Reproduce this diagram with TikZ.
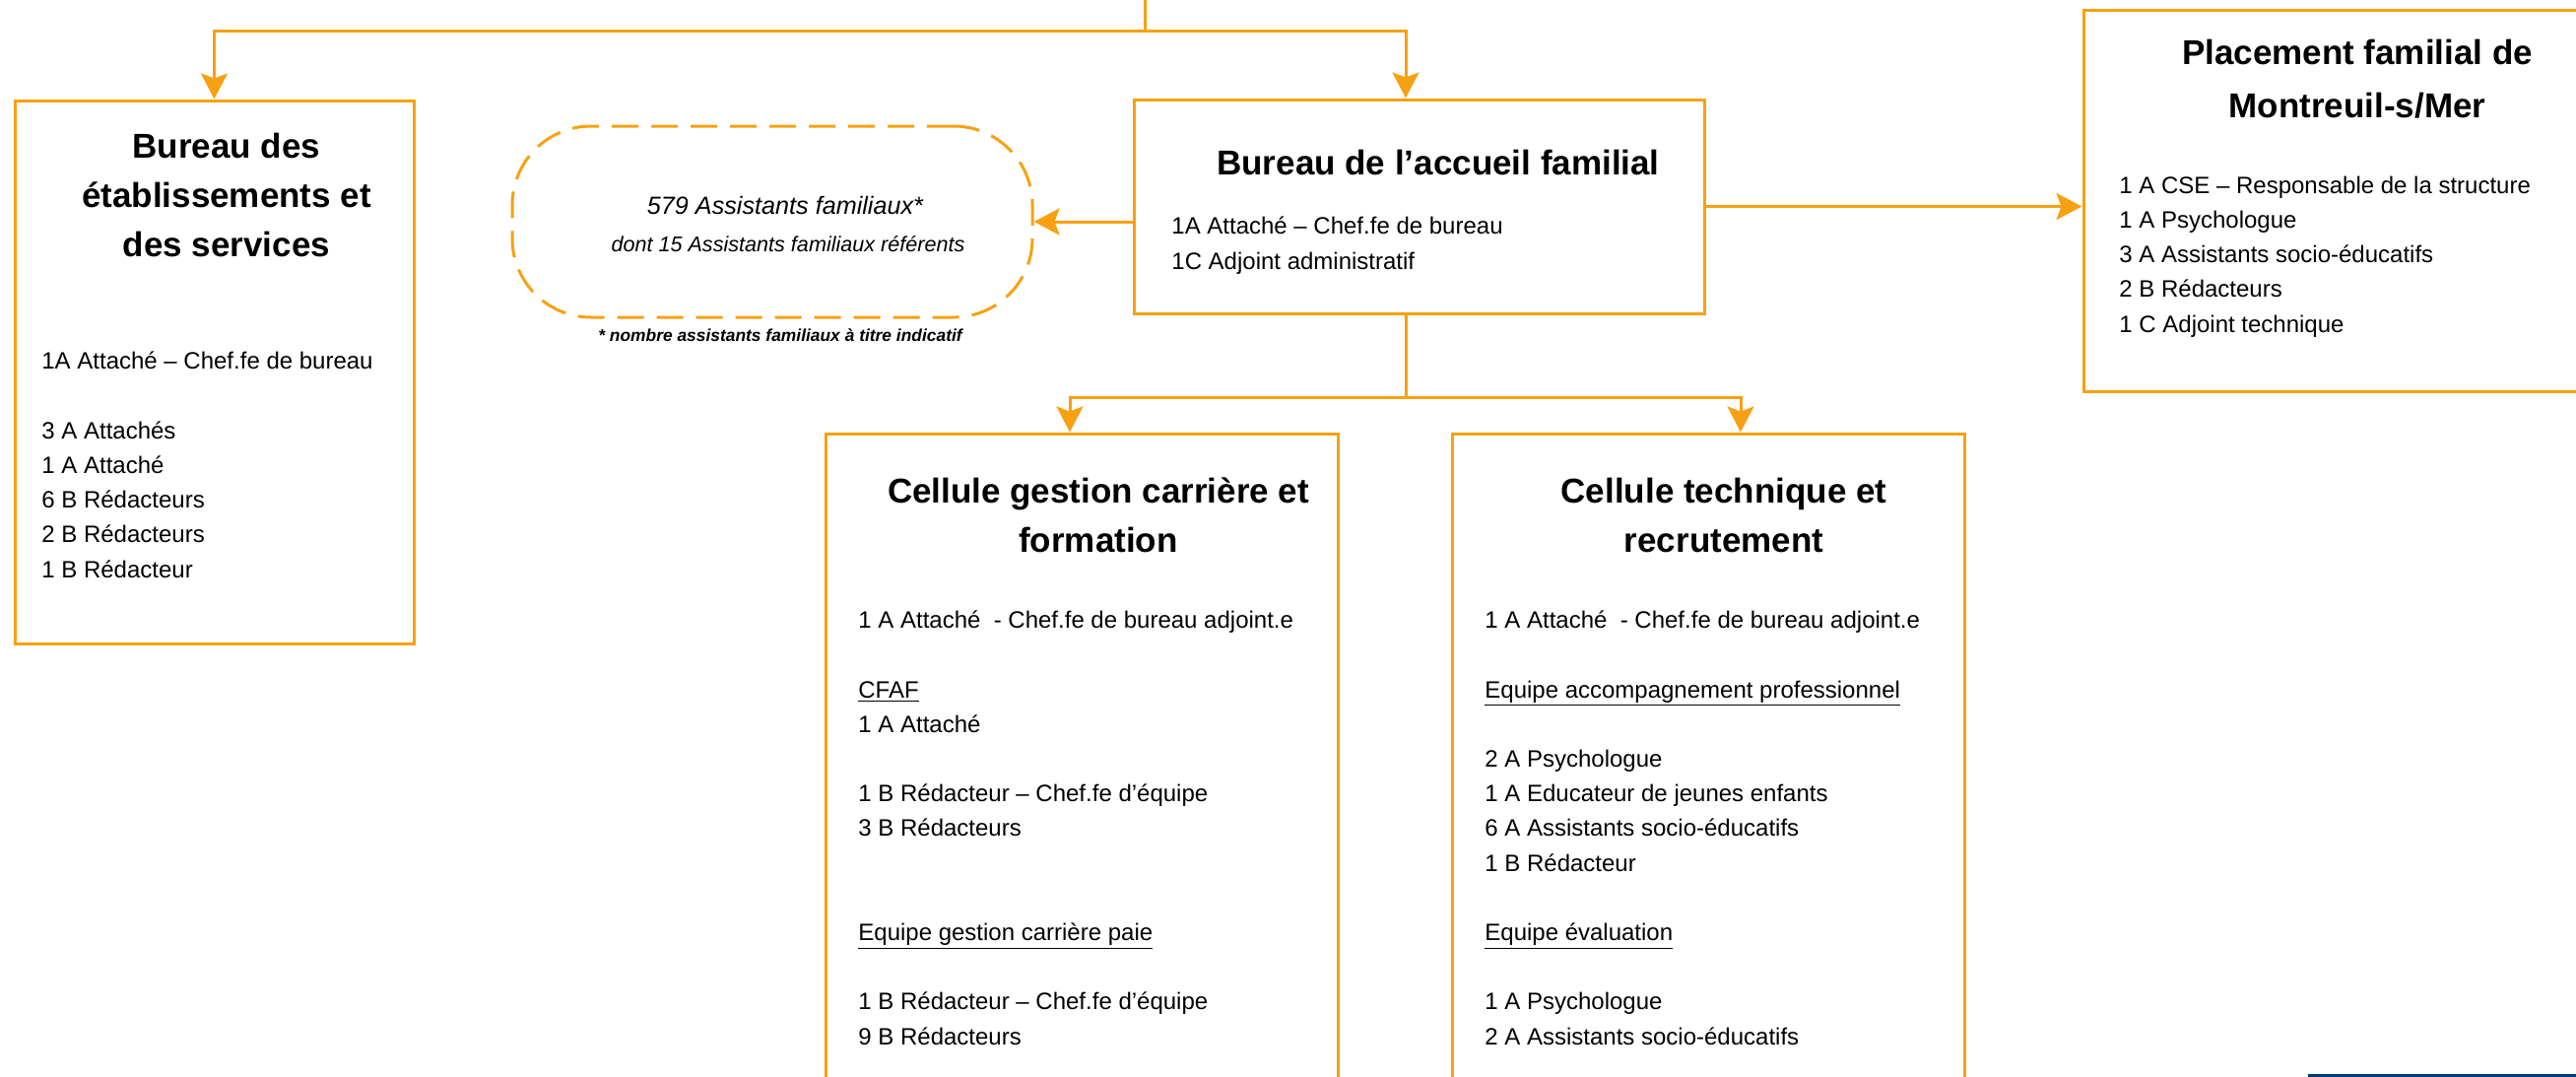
\documentclass[tikz,border=0pt]{standalone}
\usepackage{fontspec}
\setmainfont{Liberation Sans}
\usetikzlibrary{positioning}
\usetikzlibrary{arrows.meta}
\usetikzlibrary{calc}
\definecolor{cdorange}{RGB}{247,161,18}
\definecolor{cdbleu}{RGB}{0,59,113}
\tikzset{
  boite/.style={draw=cdorange, line width=1.5pt, inner sep=0pt},
  titre/.style={font=\fontsize{17.5}{25}\selectfont\bfseries, align=center, anchor=base, inner sep=0pt},
  liste/.style={font=\fontsize{12}{17.6}\selectfont, align=left, anchor=base west, inner sep=0pt},
  lien/.style={draw=cdorange, line width=1.5pt},
  fleche/.style={lien, -{Stealth[length=13pt, width=13.5pt, inset=2.5pt]}}
}

\begin{document}
\begin{tikzpicture}[x=0.5pt, y=-0.5pt]
    \useasboundingbox (0,0) rectangle (2615,1093);
    \clip (0,0) rectangle (2615,1093);

    \node[boite, minimum width=202.5pt, minimum height=275.5pt] (bes) at (217.5,377.5) {};
    \node[boite, minimum width=289.5pt, minimum height=108.5pt] (baf) at (1440.5,209.5) {};
    \node[boite, minimum width=292.5pt, minimum height=193.5pt] (pfm) at (2407.5,203.5) {};
    \node[boite, minimum width=260pt, minimum height=345pt] (cgc) at (1098,785) {};
    \node[boite, minimum width=260pt, minimum height=345pt] (ctr) at (1734,785) {};
    \node[boite, dash pattern=on 13.5pt off 6.5pt, rounded corners=40pt,
          minimum width=264pt, minimum height=97pt] (saf) at (784,225) {};

    \node[titre] (besT) at (230,260.5) {Bureau des\\établissements et\\des services};
    \node[liste] (besL) at (42,586) {1A Attaché – Chef.fe de bureau\\[17.6pt]
        3 A Attachés\\1 A Attaché\\6 B Rédacteurs\\2 B Rédacteurs\\1 B Rédacteur};

    \node[titre] (bafT) at (1460,177.5) {Bureau de l’accueil familial};
    \node[liste] (bafL) at (1189,273) {1A Attaché – Chef.fe de bureau\\1C Adjoint administratif};

    \node[titre] (pfmT) at (2393,119.5) {Placement familial de\\[2pt]Montreuil-s/Mer};
    \node[liste] (pfmL) at (2151,337) {1 A CSE – Responsable de la structure\\1 A Psychologue\\
        3 A Assistants socio-éducatifs\\2 B Rédacteurs\\1 C Adjoint technique};

    \node[titre] (cgcT) at (1115,560.5) {Cellule gestion carrière et\\formation};
    \node[liste] (cgcL) at (871,1060) {1 A Attaché~ - Chef.fe de bureau adjoint.e\\[17.6pt]
        \underline{CFAF}\\1 A Attaché\\[17.6pt]
        1 B Rédacteur – Chef.fe d’équipe\\3 B Rédacteurs\\[35.2pt]
        \underline{Equipe gestion carrière paie}\\[17.6pt]
        1 B Rédacteur – Chef.fe d’équipe\\9 B Rédacteurs};

    \node[titre] (ctrT) at (1750,560.5) {Cellule technique et\\recrutement};
    \node[liste] (ctrL) at (1507,1060) {1 A Attaché~ - Chef.fe de bureau adjoint.e\\[17.6pt]
        \underline{Equipe accompagnement professionnel}\\[17.6pt]
        2 A Psychologue\\1 A Educateur de jeunes enfants\\6 A Assistants socio-éducatifs\\1 B Rédacteur\\[17.6pt]
        \underline{Equipe évaluation}\\[17.6pt]
        1 A Psychologue\\2 A Assistants socio-éducatifs};

    \node[anchor=base, inner sep=0pt, font=\fontsize{12.6}{15}\selectfont\itshape] (saf1) at (797,217) {579 Assistants familiaux*};
    \node[anchor=base, inner sep=0pt, font=\fontsize{10.8}{13}\selectfont\itshape] (saf2) at (800,255) {dont 15 Assistants familiaux référents};
    \node[anchor=base, inner sep=0pt, font=\fontsize{8.7}{10}\selectfont\bfseries\itshape] (note) at (792,346) {* nombre assistants familiaux à titre indicatif};

    \coordinate (dir) at (1162,-10);
    \coordinate (dirbas) at (1162,31);
    \coordinate (rep) at (1427,403);
    \draw[lien] (dir) -- (dirbas);
    \draw[fleche] (dirbas) -| (bes.north);
    \draw[fleche] (dirbas) -| ([xshift=-6.75pt]baf.north);
    \draw[lien] ([xshift=-6.75pt]baf.south) -- (rep);
    \draw[fleche] (rep) -| ([xshift=-6pt]cgc.north);
    \draw[fleche] (rep) -| ([xshift=16.5pt]ctr.north);
    \draw[fleche] (baf.west |- saf.east) -- (saf.east);
    \draw[fleche] (baf.east) -- (baf.east -| pfm.west);

    \fill[cdbleu] (2343,1090) rectangle (2630,1100);
\end{tikzpicture}
\end{document}
